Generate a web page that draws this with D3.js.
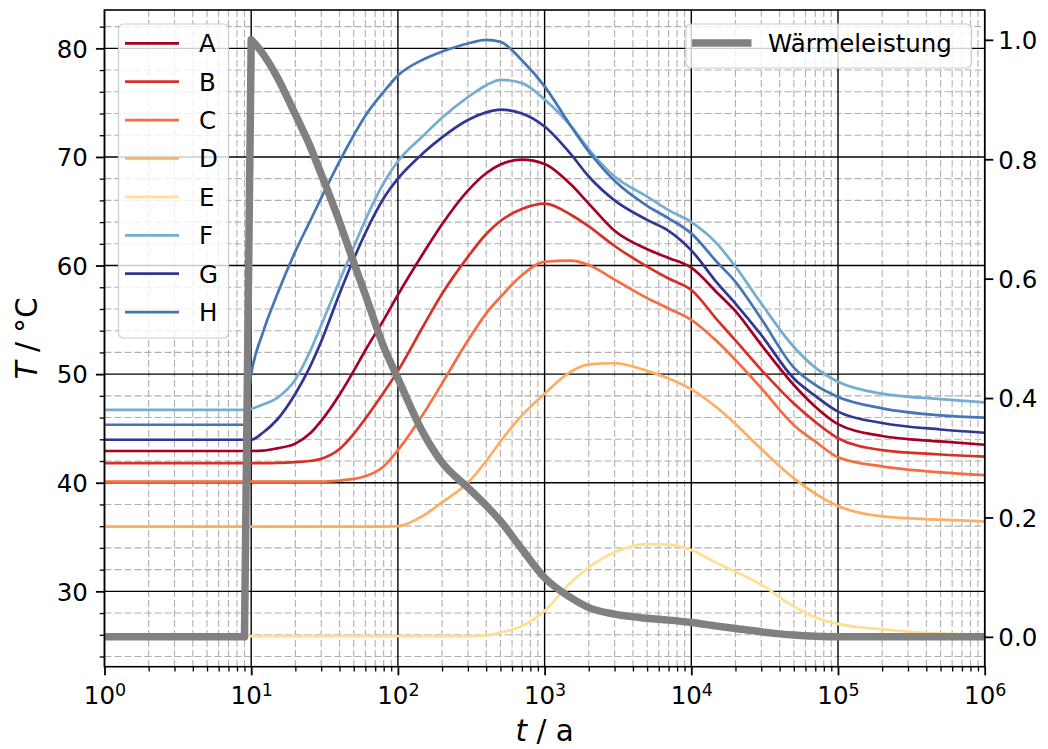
<!DOCTYPE html>
<html><head><meta charset="utf-8"><title>Temperaturverlauf</title>
<script src="https://cdn.jsdelivr.net/npm/d3@7/dist/d3.min.js"></script>
<style>
html,body{margin:0;padding:0;background:#fff;}
svg{display:block;}
</style></head><body>
<svg id="chart" width="1048" height="749"></svg>
<script>
// ---------- data ----------
const years = [1, 9, 10, 12, 15, 20, 25, 30, 40, 50, 60, 80, 100, 150, 200, 300, 400, 500, 700,
  1000, 1500, 2000, 3000, 5000, 7000, 10000, 15000, 20000, 30000, 50000, 70000, 100000, 200000, 500000, 1000000];

const seriesNames = ["A", "B", "C", "D", "E", "F", "G", "H"];
const seriesColors = ["#a50026", "#d73027", "#f46d43", "#fdae61", "#fee090", "#74add1", "#313695", "#4575b4"];

const tempA = [42.92, 42.92, 42.92, 42.95, 43.17, 43.6, 44.5, 45.7, 48.1, 50.3, 52.2, 55.0, 57.3, 61.2, 63.8, 66.9, 68.5, 69.3, 69.75,
  69.35, 67.5, 65.7, 63.2, 61.5, 60.7, 59.8, 57.5, 55.8, 52.7, 49.0, 47.0, 45.4, 44.3, 43.8, 43.5];
const tempB = [41.81, 41.81, 41.81, 41.81, 41.83, 41.9, 42.0, 42.2, 43.1, 44.5, 45.9, 48.3, 50.3, 54.5, 57.4, 60.8, 62.9, 64.1, 65.2,
  65.7, 64.7, 63.6, 61.8, 59.9, 58.8, 57.75, 55.0, 53.1, 50.4, 47.3, 45.6, 44.1, 43.0, 42.6, 42.4];
const tempC = [40.1, 40.1, 40.1, 40.1, 40.1, 40.1, 40.1, 40.1, 40.2, 40.35, 40.6, 41.5, 43.0, 46.4, 49.15, 53.1, 55.6, 57.1, 59.1,
  60.35, 60.45, 60.05, 58.7, 57.0, 56.05, 55.0, 53.0, 51.3, 48.7, 45.3, 43.8, 42.35, 41.5, 40.95, 40.7];
const tempD = [35.95, 35.95, 35.95, 35.95, 35.95, 35.95, 35.95, 35.95, 35.95, 35.95, 35.95, 35.96, 36.0, 37.0, 38.2, 40.0, 42.0, 43.8, 46.2,
  48.2, 50.2, 50.9, 51.0, 50.3, 49.6, 48.6, 46.9, 45.4, 43.1, 40.4, 39.0, 37.85, 36.9, 36.6, 36.45];
const tempE = [25.88, 25.88, 25.88, 25.88, 25.88, 25.88, 25.88, 25.88, 25.88, 25.88, 25.88, 25.88, 25.88, 25.88, 25.88, 25.88, 25.95, 26.2, 26.8,
  28.2, 30.8, 32.2, 33.6, 34.35, 34.3, 33.8, 32.6, 31.8, 30.6, 28.6, 27.6, 27.0, 26.5, 26.1, 26.0];
const tempF = [46.7, 46.7, 46.8, 47.2, 47.8, 49.5, 52.0, 54.5, 58.6, 61.7, 64.2, 67.6, 69.6, 72.0, 73.6, 75.5, 76.6, 77.1, 76.8,
  75.3, 72.9, 70.7, 68.2, 66.35, 65.1, 64.0, 62.0, 59.9, 56.5, 52.5, 50.6, 49.3, 48.2, 47.7, 47.4];
const tempG = [43.96, 43.96, 43.96, 44.6, 45.8, 48.2, 50.6, 53.0, 57.4, 60.6, 63.0, 66.2, 68.0, 70.4, 71.8, 73.4, 74.1, 74.35, 74.0,
  72.8, 70.3, 68.2, 66.0, 64.2, 63.2, 61.4, 58.4, 56.5, 53.6, 49.6, 48.0, 46.55, 45.5, 44.9, 44.6];
const tempH = [45.34, 45.34, 50.0, 53.8, 57.3, 61.3, 64.0, 66.2, 69.6, 72.0, 73.8, 76.0, 77.5, 79.0, 79.7, 80.45, 80.77, 80.6, 78.9,
  76.5, 72.9, 70.5, 67.8, 65.5, 64.35, 62.96, 60.3, 58.5, 55.1, 50.6, 49.0, 47.9, 46.85, 46.2, 46.0];

const heatOutput = [0, 0, 1.0, 0.977, 0.938, 0.875, 0.824, 0.775, 0.695, 0.627, 0.573, 0.486, 0.433, 0.340, 0.292, 0.250, 0.220, 0.194, 0.147,
  0.099, 0.066, 0.049, 0.038, 0.031, 0.028, 0.024, 0.018, 0.014, 0.0084, 0.003, 0.001, 0, 0, 0, 0];
const heatLabel = "Wärmeleistung";

const xMajorTicks = [1, 10, 100, 1000, 10000, 100000, 1000000];
const xTickExponents = ["0", "1", "2", "3", "4", "5", "6"];
const yLeftTicks = [30, 40, 50, 60, 70, 80];
const yRightTicks = [0, 0.2, 0.4, 0.6, 0.8, 1.0];
const yRightLabels = ["0.0", "0.2", "0.4", "0.6", "0.8", "1.0"];
const xLabel = ["t", " / a"];
const yLabel = ["T", " / °C"];

// ---------- layout ----------
const allSeries = [tempA, tempB, tempC, tempD, tempE, tempF, tempG, tempH];
const L = 104.5, R = 984.7, T = 10, B = 666.7;
const FONT = "'DejaVu Sans', Verdana, sans-serif";
const FS = 24.5;

const svg = d3.select("#chart");
svg.append("rect").attr("width", 1048).attr("height", 749).attr("fill", "#fff");

const x = d3.scaleLog().domain([1, 1e6]).range([L, R]);
const yT = d3.scaleLinear().domain([23.06, 83.53]).range([B, T]);
const yQ = d3.scaleLinear().domain([-0.05, 1.05]).range([B, T]);

const xMinor = [];
for (let k = 0; k < 6; k++) for (let m = 2; m <= 9; m++) xMinor.push(m * Math.pow(10, k));
const yMinor = d3.range(24, 83, 2).filter(v => v % 10 !== 0);

svg.append("clipPath").attr("id", "plotclip")
  .append("rect").attr("x", L).attr("y", T).attr("width", R - L).attr("height", B - T);

// ---------- grid ----------
const grid = svg.append("g");
grid.selectAll("line.gxm").data(xMinor).join("line")
  .attr("x1", d => x(d)).attr("x2", d => x(d)).attr("y1", T).attr("y2", B)
  .attr("stroke", "#b0b0b0").attr("stroke-width", 1.1).attr("stroke-dasharray", "7,3");
grid.selectAll("line.gym").data(yMinor).join("line")
  .attr("x1", L).attr("x2", R).attr("y1", d => yT(d)).attr("y2", d => yT(d))
  .attr("stroke", "#b0b0b0").attr("stroke-width", 1.1).attr("stroke-dasharray", "7,3");
grid.selectAll("line.gxM").data(xMajorTicks).join("line")
  .attr("x1", d => x(d)).attr("x2", d => x(d)).attr("y1", T).attr("y2", B)
  .attr("stroke", "#000").attr("stroke-width", 1.4);
grid.selectAll("line.gyM").data(yLeftTicks).join("line")
  .attr("x1", L).attr("x2", R).attr("y1", d => yT(d)).attr("y2", d => yT(d))
  .attr("stroke", "#000").attr("stroke-width", 1.4);

// ---------- temperature lines ----------
const plot = svg.append("g").attr("clip-path", "url(#plotclip)");
const lineT = d3.line().x((d, i) => x(years[i])).y(d => yT(d)).curve(d3.curveMonotoneX);
allSeries.forEach((s, k) => {
  plot.append("path").attr("d", lineT(s)).attr("fill", "none")
    .attr("stroke", seriesColors[k]).attr("stroke-width", 2.7)
    .attr("stroke-linejoin", "round");
});

// ---------- heat output (right axis) ----------
const pts = heatOutput.map((v, i) => [x(years[i]), yQ(v)]);
const linLine = d3.line().curve(d3.curveLinear);
const monoLine = d3.line().curve(d3.curveMonotoneX);
const dHeat = linLine(pts.slice(0, 3)) + monoLine(pts.slice(2)).replace(/^M/, "L");
plot.append("path").attr("d", dHeat).attr("fill", "none")
  .attr("stroke", "#808080").attr("stroke-width", 7.5).attr("stroke-linejoin", "round");

// ---------- axes ----------
function styleAxis(g) {
  g.select(".domain").remove();
  g.selectAll("line").attr("stroke", "#000");
  g.selectAll("text").attr("font-family", FONT).attr("font-size", FS).attr("fill", "#000");
}
// left
svg.append("g").attr("transform", `translate(${L},0)`)
  .call(d3.axisLeft(yT).tickValues(yMinor).tickSize(4.8).tickFormat(""))
  .call(styleAxis).call(g => g.selectAll("line").attr("stroke-width", 1.3));
svg.append("g").attr("transform", `translate(${L},0)`)
  .call(d3.axisLeft(yT).tickValues(yLeftTicks).tickSize(8.6).tickPadding(8).tickFormat(d3.format("d")))
  .call(styleAxis).call(g => { g.selectAll("line").attr("stroke-width", 1.8); g.selectAll("text").attr("dy", "0.36em"); });
// right
svg.append("g").attr("transform", `translate(${R},0)`)
  .call(d3.axisRight(yQ).tickValues(yRightTicks).tickSize(8.6).tickPadding(5).tickFormat((d, i) => yRightLabels[i]))
  .call(styleAxis).call(g => { g.selectAll("line").attr("stroke-width", 1.8); g.selectAll("text").attr("dy", "0.36em"); });
// bottom
svg.append("g").attr("transform", `translate(0,${B})`)
  .call(d3.axisBottom(x).tickValues(xMinor).tickSize(4.8).tickFormat(""))
  .call(styleAxis).call(g => g.selectAll("line").attr("stroke-width", 1.3));
const bx = svg.append("g").attr("transform", `translate(0,${B})`)
  .call(d3.axisBottom(x).tickValues(xMajorTicks).tickSize(8.6).tickFormat(""))
  .call(styleAxis).call(g => g.selectAll("line").attr("stroke-width", 1.8));
bx.selectAll(".tick").each(function (d, i) {
  const t = d3.select(this).append("text")
    .attr("y", 37.5).attr("text-anchor", "middle")
    .attr("font-family", FONT).attr("font-size", FS).attr("fill", "#000");
  t.append("tspan").text("10");
  t.append("tspan").attr("dy", -8.5).attr("font-size", 17.5).text(xTickExponents[i]);
});

// spines
svg.append("rect").attr("x", L).attr("y", T).attr("width", R - L).attr("height", B - T)
  .attr("fill", "none").attr("stroke", "#000").attr("stroke-width", 1.6);

// axis labels
const xl = svg.append("text").attr("x", (L + R) / 2).attr("y", 741).attr("text-anchor", "middle")
  .attr("font-family", FONT).attr("font-size", 29.4).attr("fill", "#000");
xl.append("tspan").attr("font-style", "italic").text(xLabel[0]);
xl.append("tspan").text(xLabel[1]);
const yl = svg.append("text").attr("transform", `translate(37,${(T + B) / 2}) rotate(-90)`).attr("text-anchor", "middle")
  .attr("font-family", FONT).attr("font-size", 29.4).attr("fill", "#000");
yl.append("tspan").attr("font-style", "italic").text(yLabel[0]);
yl.append("tspan").text(yLabel[1]);

// ---------- legends ----------
const leg1 = svg.append("g");
leg1.append("rect").attr("x", 118.5).attr("y", 24).attr("width", 110).attr("height", 314)
  .attr("rx", 5).attr("fill", "#fff").attr("fill-opacity", 0.8).attr("stroke", "#cccccc").attr("stroke-width", 1.2);
seriesNames.forEach((name, k) => {
  const cy = 43.3 + k * 38.4;
  leg1.append("line").attr("x1", 125).attr("x2", 179).attr("y1", cy).attr("y2", cy)
    .attr("stroke", seriesColors[k]).attr("stroke-width", 2.7);
  leg1.append("text").attr("x", 199).attr("y", cy + 8.9).text(name)
    .attr("font-family", FONT).attr("font-size", FS).attr("fill", "#000");
});
const leg2 = svg.append("g");
leg2.append("rect").attr("x", 686).attr("y", 24).attr("width", 285.5).attr("height", 44)
  .attr("rx", 5).attr("fill", "#fff").attr("fill-opacity", 0.8).attr("stroke", "#cccccc").attr("stroke-width", 1.2);
leg2.append("line").attr("x1", 692).attr("x2", 751.5).attr("y1", 43).attr("y2", 43)
  .attr("stroke", "#808080").attr("stroke-width", 7.5);
leg2.append("text").attr("x", 768).attr("y", 52).text(heatLabel)
  .attr("font-family", FONT).attr("font-size", FS).attr("fill", "#000");
</script></body></html>
